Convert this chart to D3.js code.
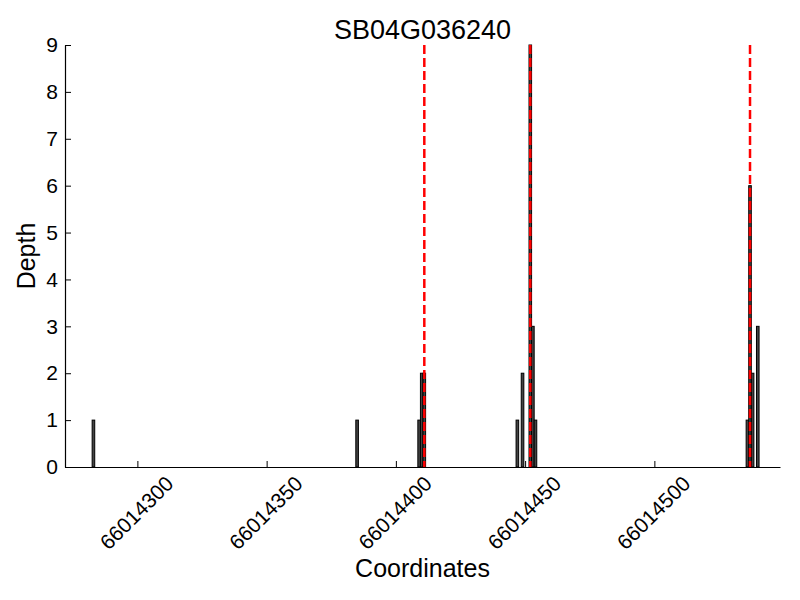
<!DOCTYPE html>
<html>
<head>
<meta charset="utf-8">
<script src="https://cdn.jsdelivr.net/npm/d3@7"></script>
<style>
body { margin: 0; background: #fff; }
text { font-family: "Liberation Sans", Arial, sans-serif; fill: #000; }
</style>
</head>
<body>
<svg id="ChartSvg" width="800" height="600"></svg>
<script>
// read depth per coordinate
var Coords = [66014283, 66014385, 66014409, 66014410, 66014411, 66014447, 66014449, 66014452, 66014453, 66014454, 66014536, 66014537, 66014538, 66014540];
var Depths = [1, 1, 1, 2, 2, 1, 2, 9, 3, 1, 1, 6, 2, 3];
var SnpCoords = [66014411, 66014452, 66014537];
var XTicks = [66014300, 66014350, 66014400, 66014450, 66014500];
var YTicks = [0, 1, 2, 3, 4, 5, 6, 7, 8, 9];
var Title = "SB04G036240";

var Left = 65, Right = 780, Top = 45, Bottom = 467;

var svg = d3.select("#ChartSvg");

var X = d3.scaleLinear()
	.domain([66014272.0, 66014548.6])
	.range([Left, Right]);

var Y = d3.scaleLinear()
	.domain([0, 9])
	.range([Bottom, Top]);

// bars
svg.append('g')
	.selectAll('rect')
	.data(Coords)
	.enter()
	.append('rect')
	.attr('x', function(d){ return X(d - 0.5); })
	.attr('width', function(d){ return X(d + 0.5) - X(d - 0.5); })
	.attr('y', function(d,i){ return Y(Depths[i]); })
	.attr('height', function(d,i){ return Y(0) - Y(Depths[i]); })
	.style('fill', '#444444')
	.style('stroke', '#000')
	.style('stroke-width', 1);

// snp lines
svg.append('g')
	.selectAll('line')
	.data(SnpCoords)
	.enter()
	.append('line')
	.attr('x1', function(d){ return X(d); })
	.attr('x2', function(d){ return X(d); })
	.attr('y1', Top)
	.attr('y2', Bottom)
	.style('stroke', '#ff0000')
	.style('stroke-width', 2.5)
	.style('stroke-dasharray', '9,4');

// x axis
var XAxis = svg.append('g')
	.attr('transform', 'translate(0,' + Bottom + ')')
	.call(d3.axisBottom(X).tickValues(XTicks).tickSizeInner(-6).tickSizeOuter(0).tickFormat(d3.format('d')));
XAxis.select('.domain').attr('stroke', '#000').attr('stroke-width', 1.2);
XAxis.selectAll('.tick text')
	.style('font-size', '21px')
	.attr('text-anchor', 'end')
	.attr('dy', null)
	.attr('y', 0)
	.attr('transform', 'translate(37,18) rotate(-45)');

// y axis
var YAxis = svg.append('g')
	.attr('transform', 'translate(' + Left + ',0)')
	.call(d3.axisLeft(Y).tickValues(YTicks).tickSizeInner(-6).tickSizeOuter(0));
YAxis.select('.domain').attr('stroke', '#000').attr('stroke-width', 1.2);
YAxis.selectAll('.tick text')
	.style('font-size', '21px')
	.attr('x', -7);

// labels
svg.append('text')
	.attr('x', (Left + Right) / 2)
	.attr('y', 39)
	.attr('text-anchor', 'middle')
	.style('font-size', '27px')
	.text(Title);

svg.append('text')
	.attr('x', (Left + Right) / 2)
	.attr('y', 577)
	.attr('text-anchor', 'middle')
	.style('font-size', '25px')
	.text("Coordinates");

svg.append('text')
	.attr('transform', 'translate(35,' + (Top + Bottom) / 2 + ') rotate(-90)')
	.attr('text-anchor', 'middle')
	.style('font-size', '25px')
	.text("Depth");
</script>
</body>
</html>
